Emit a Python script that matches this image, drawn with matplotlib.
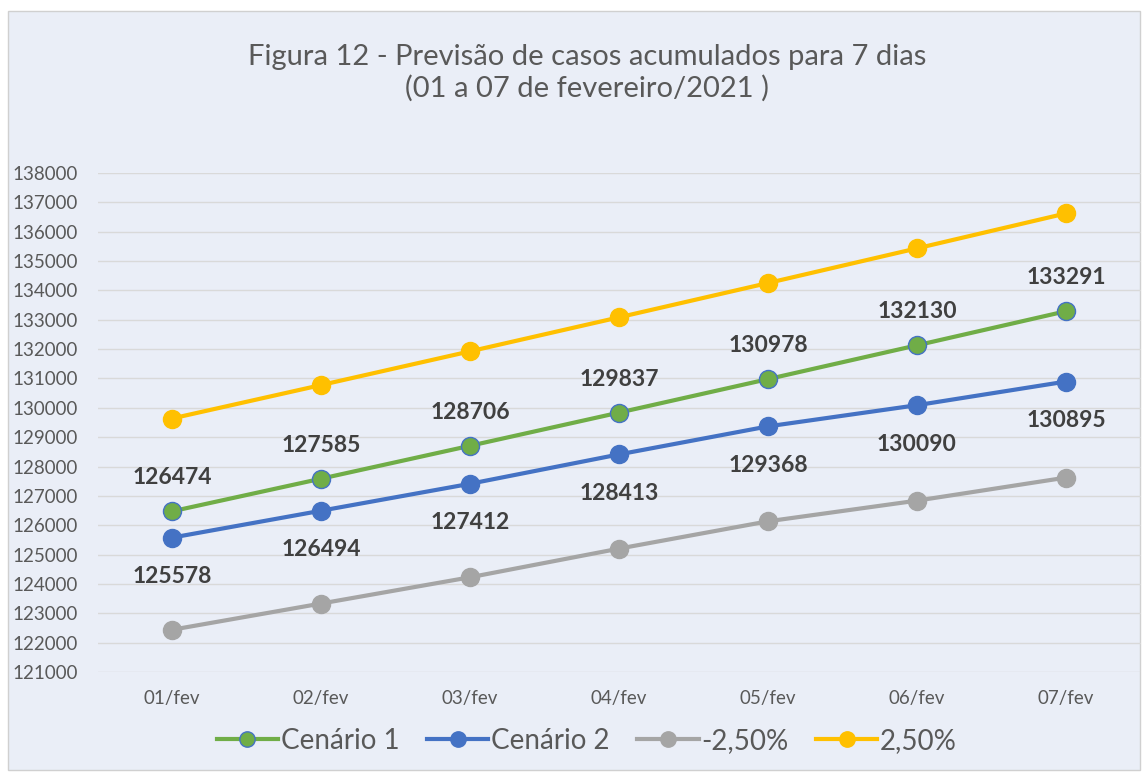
import matplotlib.pyplot as plt
from matplotlib.patches import Rectangle

plt.rcParams['font.family'] = ['Lato', 'DejaVu Sans']

dias = ["01/fev", "02/fev", "03/fev", "04/fev", "05/fev", "06/fev", "07/fev"]
cenario1 = [126474, 127585, 128706, 129837, 130978, 132130, 133291]
cenario2 = [125578, 126494, 127412, 128413, 129368, 130090, 130895]
menos_250 = [122439, 123332, 124227, 125203, 126134, 126838, 127623]
mais_250 = [129636, 130775, 131924, 133083, 134252, 135433, 136623]

bg = "#EAEEF7"
fig = plt.figure(figsize=(11.48, 7.76), dpi=100)
fig.patch.set_facecolor("white")
fig.patches.append(Rectangle((8 / 1148, 1 - 770 / 776), 1132 / 1148, 759 / 776,
                             transform=fig.transFigure, facecolor=bg,
                             edgecolor="#D0D0D0", linewidth=1, zorder=-10))

ax = fig.add_axes([97.5 / 1148, 1 - 672 / 776, 1043 / 1148, 499 / 776])
ax.set_facecolor(bg)
ax.patch.set_alpha(0)

x = range(len(dias))
ax.plot(x, cenario1, color="#70AD47", lw=3, marker="o", ms=13,
        mfc="#70AD47", mec="#4472C4", mew=1, label="Cenário 1", zorder=3)
ax.plot(x, cenario2, color="#4472C4", lw=3, marker="o", ms=13,
        label="Cenário 2", zorder=3)
ax.plot(x, menos_250, color="#A5A5A5", lw=3, marker="o", ms=13,
        label="-2,50%", zorder=3)
ax.plot(x, mais_250, color="#FFC000", lw=3, marker="o", ms=13,
        label="2,50%", zorder=3)

for i, v in enumerate(cenario1):
    ax.annotate(str(v), (i, v), xytext=(0, 24), textcoords="offset points",
                ha="center", va="center", fontsize=16.5, fontweight="bold",
                color="#404040")
for i, v in enumerate(cenario2):
    ax.annotate(str(v), (i, v), xytext=(0, -28), textcoords="offset points",
                ha="center", va="center", fontsize=16.5, fontweight="bold",
                color="#404040")

ax.set_xlim(-0.5, len(dias) - 0.5)
ax.set_ylim(121000, 138000)
ax.set_yticks(range(121000, 138001, 1000))
ax.set_xticks(list(x))
ax.set_xticklabels(dias)
ax.grid(axis="y", color="#D9D9D9", lw=1)
ax.set_axisbelow(True)
for s in ax.spines.values():
    s.set_visible(False)
ax.tick_params(length=0, colors="#595959", labelsize=13.5)
ax.tick_params(axis="x", pad=13)
ax.tick_params(axis="y", pad=14)

fig.text(587 / 1148, 1 - 73 / 776,
         "Figura 12 - Previsão de casos acumulados para 7 dias\n(01 a 07 de fevereiro/2021 )",
         ha="center", va="center", fontsize=21, color="#595959", linespacing=1.25)

leg = fig.legend(loc="center", bbox_to_anchor=(587 / 1148, 1 - 741 / 776),
                 ncol=4, frameon=False, fontsize=20, handlelength=2.2,
                 handletextpad=0.1, columnspacing=1.0, labelcolor="#595959",
                 markerscale=0.85)

fig.savefig("out.png", dpi=100, facecolor="white")
